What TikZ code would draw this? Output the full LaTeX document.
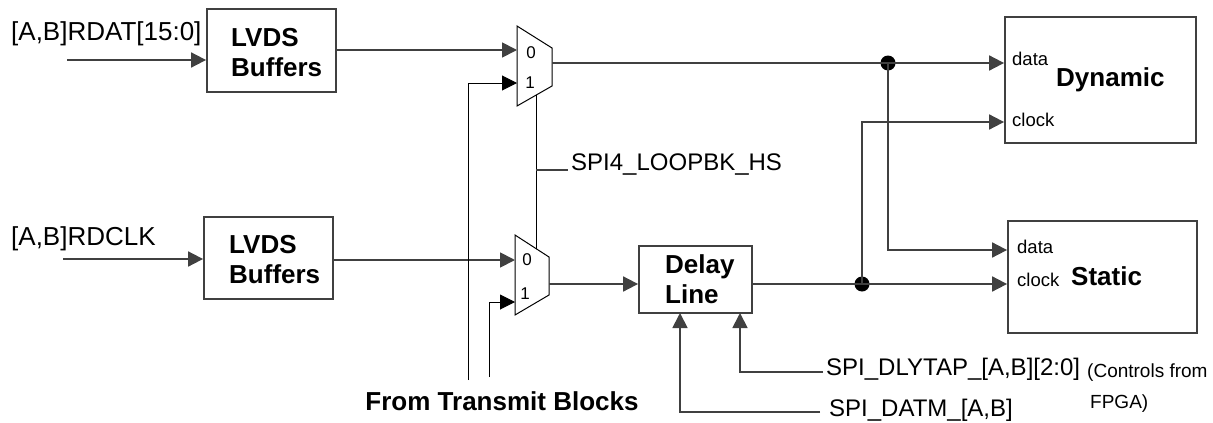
\documentclass[tikz,border=0pt]{standalone}
\usepackage{fontspec}
\setmainfont{Liberation Sans}
\usetikzlibrary{arrows.meta}
\definecolor{wirec}{RGB}{64,64,64}
\begin{document}
\begin{tikzpicture}[x=1pt,y=-1pt,
  wire/.style={line width=1.8pt, draw=wirec},
  thinw/.style={line width=1pt, draw=black},
  arr/.style={-{Triangle[length=15pt,width=15pt]}},
  box/.style={draw=wirec, line width=1.8pt, inner sep=0pt, fill=white},
  reg/.style={font=\fontsize{24}{29}\selectfont, inner sep=0pt},
  inl/.style={font=\fontsize{26}{30}\selectfont, inner sep=0pt},
  boldt/.style={font=\fontsize{26}{30}\selectfont\bfseries, inner sep=0pt, align=left},
  small/.style={font=\fontsize{18.5}{22}\selectfont, inner sep=0pt},
  muxl/.style={font=\fontsize{17}{20}\selectfont, inner sep=0pt},
  jdot/.style={circle, fill=black, minimum size=15pt, inner sep=0pt},
]
\useasboundingbox (0,0) rectangle (1213,423);

% boxes
\node[box, minimum width=129pt, minimum height=83pt] (buf1) at (271.5,50.5) {};
\node[box, minimum width=129pt, minimum height=82pt] (buf2) at (268.5,258) {};
\node[box, minimum width=113pt, minimum height=67pt] (dly) at (695.5,279.5) {};
\node[box, minimum width=191pt, minimum height=126pt] (dyn) at (1100.5,80) {};
\node[box, minimum width=189pt, minimum height=112pt] (sta) at (1102.5,277) {};

\node[boldt, anchor=west] (buf1t) at (231,53) {LVDS\\Buffers};
\node[boldt, anchor=west] (buf2t) at (229,260) {LVDS\\Buffers};
\node[boldt, anchor=west] (dlyt) at (665,279) {Delay\\Line};
\node[boldt, anchor=base west] (dynt) at (1056,86) {Dynamic};
\node[boldt, anchor=base west] (stat) at (1071,285) {Static};
\node[small, anchor=base west] (dynd) at (1012,65) {data};
\node[small, anchor=base west] (dync) at (1012,126) {clock};
\node[small, anchor=base west] (stad) at (1017,253) {data};
\node[small, anchor=base west] (stac) at (1017,286) {clock};

% muxes
\draw[thinw] (517,26) -- (552,48) -- (552,86) -- (517,106) -- cycle;
\draw[thinw] (515,235) -- (549,257) -- (549,295) -- (515,315) -- cycle;
\coordinate (m1i0) at (517,50);
\coordinate (m1i1) at (517,83);
\coordinate (m1o) at (552,63);
\coordinate (m1s) at (536,95);
\coordinate (m2i0) at (515,260);
\coordinate (m2i1) at (515,302);
\coordinate (m2o) at (549,284);
\coordinate (m2s) at (536,248.6);
\node[muxl, anchor=base] (m1l0) at (531,58) {0};
\node[muxl, anchor=base] (m1l1) at (530,88) {1};
\node[muxl, anchor=base] (m2l0) at (527,265) {0};
\node[muxl, anchor=base] (m2l1) at (525,299) {1};

% inputs
\node[inl, anchor=base west] (rdat) at (11,40) {[A,B]RDAT[15:0]};
\node[inl, anchor=base west] (rdclk) at (11,245) {[A,B]RDCLK};
\coordinate (rdatin) at (67,60);
\coordinate (rdclkin) at (63,259);
\draw[wire,arr] (rdatin) -- (buf1.west |- rdatin);
\draw[wire,arr] (rdclkin) -- (buf2.west |- rdclkin);
\draw[wire,arr] (buf1.east |- m1i0) -- (m1i0);
\draw[wire,arr] (buf2.east |- m2i0) -- (m2i0);

% select line
\coordinate (selbr) at (536,170);
\coordinate (selend) at (568,170);
\draw[thinw] (m1s) -- (m2s);
\draw[wire] (selbr) -- (selend);
\node[reg, anchor=base west] (sellbl) at (571,170) {SPI4\_LOOPBK\_HS};

% from transmit blocks
\coordinate (tx1) at (468,380);
\coordinate (tx2) at (489,377);
\draw[thinw,arr] (tx1) |- (m1i1);
\draw[thinw,arr] (tx2) |- (m2i1);
\node[boldt, anchor=base] (txl) at (502,410) {From Transmit Blocks};

% mux2 to delay
\draw[wire,arr] (m2o) -- (dly.west |- m2o);

% delay controls
\node[reg, anchor=base west] (dlytap) at (826,375) {SPI\_DLYTAP\_[A,B][2:0]};
\node[reg, anchor=base west] (datm) at (829,416) {SPI\_DATM\_[A,B]};
\coordinate (dlytapend) at (823,372);
\coordinate (datmend) at (820,412);
\draw[wire,arr] (dlytapend) -| (740,313);
\draw[wire,arr] (datmend) -| (680,313);
\node[font=\fontsize{19}{22}\selectfont, inner sep=0pt, anchor=base west] (ctl1) at (1087,377) {(Controls from};
\node[font=\fontsize{19}{22}\selectfont, inner sep=0pt, anchor=base west] (ctl2) at (1090,408) {FPGA)};

% right side
\node[jdot] (d1) at (888,63) {};
\node[jdot] (d2) at (862,284) {};
\draw[wire,arr] (m1o) -- (dyn.west |- m1o);
\draw[wire,arr] (dly.east |- d2) -- (sta.west |- d2);
\draw[wire,arr] (d1.center) |- (sta.west |- 0,250);
\draw[wire,arr] (d2.center) |- (dyn.west |- 0,122);
\end{tikzpicture}
\end{document}
